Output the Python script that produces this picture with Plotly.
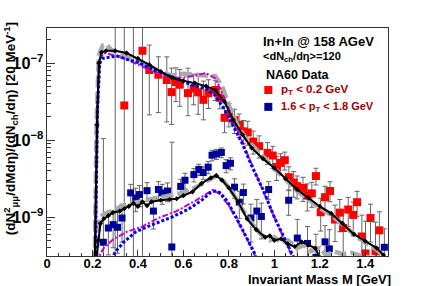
import numpy as np
import plotly.graph_objects as go

# ---------------- NA60 data, pT < 0.2 GeV (red) ----------------
red_mass = [0.300, 0.340, 0.380, 0.420, 0.450, 0.490, 0.527, 0.548, 0.567, 0.584,
            0.620, 0.645, 0.665, 0.688, 0.710, 0.740, 0.760, 0.781, 0.800, 0.825,
            0.845, 0.865, 0.883, 0.907, 0.933, 0.970, 0.993, 1.010, 1.027, 1.046,
            1.064, 1.085, 1.100, 1.126, 1.145, 1.165, 1.183, 1.204, 1.223, 1.245,
            1.267, 1.288, 1.303, 1.325, 1.347, 1.364, 1.385, 1.401, 1.423, 1.445, 1.462]
red_log10 = [-9.80, -7.55, -9.80, -6.84, -7.09, -7.15, -7.22, -7.377, -7.247, -7.28,
             -7.39, -7.33, -7.38, -7.477, -7.39, -7.35, -7.45, -7.71, -7.66, -7.74,
             -7.80, -7.886, -7.90, -8.018, -8.078, -8.165, -8.20, -8.347, -8.295, -8.26,
             -8.48, -8.55, -8.597, -8.62, -8.72, -8.69, -8.466, -8.935, -8.74, -8.66,
             -9.03, -8.94, -9.14, -8.90, -8.97, -8.805, -9.25, -9.47, -9.01, -9.44, -9.17]
red_err_up = [5e-7, 5e-7, 5e-7, 5e-7, 9e-8, 5e-8, 6e-8, 4.4e-8, 3e-8, 3e-8,
              4.5e-8, 2.5e-8, 3e-8, 2.5e-8, 2e-8, 1.5e-8, 1.2e-8, 8e-9, 8e-9, 7e-9,
              6e-9, 5e-9, 5e-9, 3.5e-9, 3e-9, 2.5e-9, 2e-9, 1.6e-9, 1.6e-9, 1.5e-9,
              1.2e-9, 1.1e-9, 9e-10, 9e-10, 8e-10, 8e-10, 9e-10, 6e-10, 7e-10, 7e-10,
              5e-10, 5.5e-10, 5e-10, 5.5e-10, 5e-10, 6e-10, 5e-10, 5.5e-10, 5e-10, 5e-10, 5e-10]
red_err_dn = [5e-7, 5e-7, 5e-7, 5e-7, 6e-8, 4.8e-8, 4.3e-8, 2.6e-8, 2.5e-8, 2.5e-8,
              2e-8, 1.8e-8, 2e-8, 1.5e-8, 1.5e-8, 1.2e-8, 1e-8, 7e-9, 7e-9, 6e-9,
              5e-9, 4e-9, 4e-9, 3e-9, 2.5e-9, 2e-9, 2e-9, 1.5e-9, 1.5e-9, 1.4e-9,
              1.1e-9, 1e-9, 8e-10, 8e-10, 7e-10, 7e-10, 8e-10, 5e-10, 6e-10, 6e-10,
              4.5e-10, 5e-10, 4.5e-10, 5e-10, 5e-10, 5.5e-10, 5e-10, 5.5e-10, 5e-10, 5e-10, 5e-10]

# ---------------- NA60 data, 1.6 < pT < 1.8 GeV (blue) ----------------
blue_mass = [0.248, 0.270, 0.291, 0.310, 0.330, 0.368, 0.390, 0.407, 0.440, 0.468,
             0.490, 0.507, 0.530, 0.549, 0.588, 0.607, 0.646, 0.668, 0.687, 0.709,
             0.726, 0.745, 0.767, 0.788, 0.807, 0.825, 0.846, 0.864, 0.897, 0.923,
             0.943, 0.975, 1.063, 1.101, 1.146, 1.183, 1.223, 1.242, 1.484]
blue_log10 = [-9.325, -9.14, -9.096, -9.13, -9.01, -8.684, -8.75, -8.706, -8.655, -8.92,
              -8.64, -8.684, -8.66, -9.386, -8.60, -8.52, -8.447, -8.38, -8.42, -8.35,
              -8.195, -8.18, -8.16, -8.33, -8.30, -8.61, -8.805, -8.68, -9.01, -8.92,
              -8.99, -8.64, -8.78, -9.27, -9.34, -9.52, -9.32, -9.41, -9.39]
blue_err = [1e-8, 4e-10, 4e-10, 4e-10, 5e-10, 6e-10, 6e-10, 6e-10, 6e-10, 5e-10,
            6e-10, 6e-10, 6e-10, 9e-9, 6e-10, 7e-10, 7e-10, 7e-10, 7e-10, 8e-10,
            1e-9, 1e-9, 1e-9, 9e-10, 9e-10, 7e-10, 6e-10, 6e-10, 5e-10, 5e-10,
            5e-10, 6e-10, 6e-10, 4e-10, 3e-10, 3e-10, 3e-10, 3e-10, 3e-10]

# ---------------- model curves, low pT (upper set) ----------------
hi_black_mass = [0.210, 0.220, 0.228, 0.240, 0.260, 0.300, 0.350, 0.400, 0.450, 0.500,
                 0.550, 0.600, 0.650, 0.700, 0.740, 0.780, 0.820, 0.860, 0.900, 0.950,
                 1.000, 1.050, 1.100, 1.150, 1.200, 1.250, 1.300, 1.350, 1.400, 1.450, 1.480]
hi_black_log10 = [-9.6, -7.8, -7.0, -6.86, -6.84, -6.84, -6.87, -6.94, -7.02, -7.11,
                  -7.19, -7.23, -7.26, -7.30, -7.35, -7.50, -7.74, -7.93, -8.10, -8.24,
                  -8.36, -8.50, -8.64, -8.75, -8.86, -8.95, -9.08, -9.22, -9.31, -9.40, -9.49]

hi_grey_mass = [0.210, 0.218, 0.228, 0.245, 0.262, 0.280, 0.300, 0.350, 0.400, 0.450,
                0.500, 0.550, 0.600, 0.650, 0.700, 0.740, 0.770, 0.800, 0.840, 0.880,
                0.920, 0.960, 1.000, 1.050, 1.100, 1.150, 1.200, 1.250, 1.300, 1.350,
                1.400, 1.450, 1.480]
hi_grey_log10 = [-9.6, -7.8, -6.9, -6.77, -6.76, -6.82, -6.86, -6.92, -6.98, -7.05,
                 -7.12, -7.16, -7.14, -7.15, -7.17, -7.17, -7.30, -7.55, -7.82, -8.0,
                 -8.12, -8.25, -8.37, -8.51, -8.66, -8.77, -8.88, -8.97, -9.10, -9.22,
                 -9.33, -9.42, -9.50]

hi_blue_mass = [0.212, 0.222, 0.232, 0.245, 0.280, 0.310, 0.350, 0.400, 0.450, 0.500,
                0.550, 0.600, 0.650, 0.700, 0.740, 0.780, 0.820, 0.860, 0.900, 0.950,
                1.000, 1.050, 1.090]
hi_blue_log10 = [-9.6, -7.6, -7.0, -6.94, -6.92, -6.91, -6.95, -6.99, -7.06, -7.12,
                 -7.18, -7.24, -7.30, -7.33, -7.42, -7.60, -7.82, -8.05, -8.33, -8.64,
                 -9.0, -9.32, -9.55]

hi_mag_mass = [0.212, 0.222, 0.232, 0.250, 0.270, 0.300, 0.350, 0.400, 0.450, 0.500,
               0.550, 0.600, 0.650, 0.700, 0.740, 0.780, 0.820, 0.860, 0.900, 0.950,
               1.000, 1.050, 1.090]
hi_mag_log10 = [-9.6, -7.5, -6.95, -6.87, -6.88, -6.91, -6.95, -7.02, -7.09, -7.15,
                -7.19, -7.19, -7.16, -7.13, -7.20, -7.45, -7.75, -8.03, -8.32, -8.66,
                -9.0, -9.33, -9.58]

# ---------------- model curves, high pT (lower set) ----------------
lo_black_mass = [0.215, 0.225, 0.235, 0.250, 0.270, 0.290, 0.320, 0.340, 0.360, 0.380,
                 0.400, 0.420, 0.440, 0.460, 0.500, 0.540, 0.570, 0.600, 0.640, 0.680,
                 0.720, 0.745, 0.770, 0.800, 0.840, 0.880, 0.920, 0.960, 0.980, 1.000,
                 1.030, 1.060, 1.090, 1.120, 1.150, 1.180, 1.200]
lo_black_log10 = [-9.6, -9.3, -9.08, -9.02, -8.98, -8.94, -8.92, -8.89, -8.86, -8.82,
                  -8.86, -8.80, -8.85, -8.80, -8.78, -8.77, -8.76, -8.72, -8.67, -8.56,
                  -8.49, -8.46, -8.52, -8.62, -8.80, -9.02, -9.16, -9.26, -9.24, -9.30,
                  -9.28, -9.35, -9.38, -9.32, -9.36, -9.40, -9.52]

lo_grey_mass = [0.215, 0.224, 0.232, 0.250, 0.280, 0.320, 0.360, 0.400, 0.440, 0.480,
                0.520, 0.560, 0.600, 0.650, 0.700, 0.745, 0.780, 0.820, 0.860, 0.900,
                0.940, 0.980, 1.000, 1.030, 1.060, 1.100, 1.130, 1.160, 1.200, 1.230,
                1.260, 1.300, 1.340, 1.380, 1.420]
lo_grey_log10 = [-9.6, -9.2, -9.0, -8.96, -8.92, -8.87, -8.83, -8.80, -8.78, -8.75,
                 -8.73, -8.71, -8.68, -8.62, -8.53, -8.46, -8.54, -8.70, -8.90, -9.08,
                 -9.22, -9.30, -9.26, -9.33, -9.30, -9.40, -9.36, -9.44, -9.40, -9.50,
                 -9.44, -9.48, -9.46, -9.50, -9.52]

lo_blue_mass = [0.285, 0.300, 0.335, 0.390, 0.460, 0.540, 0.620, 0.680, 0.720, 0.740,
                0.760, 0.790, 0.830, 0.870, 0.910, 0.925]
lo_blue_log10 = [-9.55, -9.45, -9.33, -9.19, -9.10, -9.01, -8.90, -8.78, -8.68, -8.66,
                 -8.68, -8.78, -8.99, -9.21, -9.45, -9.55]

lo_mag_mass = [0.222, 0.235, 0.250, 0.290, 0.350, 0.420, 0.490, 0.570, 0.650, 0.700,
               0.730, 0.760, 0.800, 0.840, 0.880, 0.920]
lo_mag_log10 = [-9.6, -9.47, -9.40, -9.29, -9.19, -9.12, -9.01, -8.92, -8.79, -8.70,
                -8.645, -8.70, -8.85, -9.06, -9.28, -9.53]

# legend texts
title_lines = ["In+In @ 158 AGeV", "&lt;dN<sub>ch</sub>/dη&gt;=120", "NA60 Data"]
legend_labels = ["p<sub>T</sub> &lt; 0.2 GeV", "1.6 &lt; p<sub>T</sub> &lt; 1.8 GeV"]

# ---------------------------------------------------------------------------
FONT = "Liberation Sans"
RED = "#ff0000"
NAVY = "#000099"
TXTRED = "#a00000"


def lin(v):
    return np.power(10.0, np.array(v))


fig = go.Figure()

# data points (drawn first, curves on top)
fig.add_trace(go.Scatter(
    x=red_mass, y=lin(red_log10), mode="markers",
    marker=dict(symbol="square", size=8, color=RED),
    error_y=dict(type="data", symmetric=False, array=red_err_up, arrayminus=red_err_dn,
                 color="#666666", thickness=1, width=2.5),
    showlegend=False))
fig.add_trace(go.Scatter(
    x=blue_mass, y=lin(blue_log10), mode="markers",
    marker=dict(symbol="square", size=7, color=NAVY),
    error_y=dict(type="data", array=blue_err, color="#666666", thickness=1, width=2.5),
    showlegend=False))

curve_sets = [
    (hi_grey_mass, hi_grey_log10, lo_grey_mass, lo_grey_log10,
     dict(color="#aaaaaa", width=4.5, dash="12px,4px"), "lines", None),
    (hi_mag_mass, hi_mag_log10, lo_mag_mass, lo_mag_log10,
     dict(color="#cc00cc", width=2, dash="6px,2px,2px,2px"), "lines", None),
    (hi_blue_mass, hi_blue_log10, lo_blue_mass, lo_blue_log10,
     dict(color="#0000ff", width=3, dash="3px,2px"), "lines", None),
    (hi_black_mass, hi_black_log10, lo_black_mass, lo_black_log10,
     dict(color="#000000", width=2), "lines+markers",
     dict(symbol="diamond", size=4, color="#000000")),
]
for hm, hl, lm, ll, line, mode, mk in curve_sets:
    for mm, lv in ((hm, hl), (lm, ll)):
        kw = dict(x=mm, y=lin(lv), mode=mode, line=line, showlegend=False)
        if mk is not None:
            kw["marker"] = mk
        fig.add_trace(go.Scatter(**kw))

# legend markers on an overlay paper-like axis
fig.add_trace(go.Scatter(x=[0.649], y=[0.728], mode="markers", xaxis="x2", yaxis="y2",
                         marker=dict(symbol="square", size=8, color=RED),
                         showlegend=False, cliponaxis=False))
fig.add_trace(go.Scatter(x=[0.649], y=[0.654], mode="markers", xaxis="x2", yaxis="y2",
                         marker=dict(symbol="square", size=8, color=NAVY),
                         showlegend=False, cliponaxis=False))

ann = []
ann.append(dict(text="<b>" + title_lines[0] + "</b>", x=0.629, y=0.942,
                font=dict(family=FONT, size=13, color="black")))
ann.append(dict(text="<b>" + title_lines[1] + "</b>", x=0.629, y=0.872,
                font=dict(family=FONT, size=11, color="black")))
ann.append(dict(text="<b>" + title_lines[2] + "</b>", x=0.635, y=0.794,
                font=dict(family=FONT, size=12.5, color="black")))
ann.append(dict(text="<b>" + legend_labels[0] + "</b>", x=0.681, y=0.728,
                font=dict(family=FONT, size=11.5, color=TXTRED)))
ann.append(dict(text="<b>" + legend_labels[1] + "</b>", x=0.681, y=0.654,
                font=dict(family=FONT, size=11, color=TXTRED)))
for a in ann:
    a.update(xref="paper", yref="paper", xanchor="left", yanchor="middle", showarrow=False)

# axis titles
ann.append(dict(text="<b>Invariant Mass M [GeV]</b>", xref="paper", yref="paper",
                x=1.015, y=-0.104, xanchor="right", yanchor="middle", showarrow=False,
                font=dict(family=FONT, size=13, color="black")))
ann.append(dict(text="<b>(dN<sup>2</sup><sub>μμ</sub>/dMdη)/(dN<sub>ch</sub>/dη) [20 MeV<sup>-1</sup>]</b>",
                xref="paper", yref="paper", x=-0.106, y=0.56, xanchor="center",
                yanchor="middle", textangle=-90, showarrow=False,
                font=dict(family=FONT, size=13.5, color="black")))

fig.update_layout(
    width=432, height=286,
    margin=dict(l=43, r=44, t=28, b=30),
    paper_bgcolor="white", plot_bgcolor="white",
    font=dict(family=FONT, color="black"),
    annotations=ann,
    xaxis=dict(range=[0, 1.5], showgrid=False, zeroline=False,
               showline=True, linecolor="#333333", linewidth=1, mirror=True,
               ticks="inside", ticklen=6, tickcolor="#333333",
               tick0=0, dtick=0.2, tickformat="~g", ticklabelstandoff=-5,
               tickfont=dict(family=FONT, size=13, weight="bold"),
               minor=dict(ticks="inside", ticklen=3, dtick=0.05, tickcolor="#333333",
                          showgrid=False)),
    yaxis=dict(type="log", range=[-9.503, -6.545], showgrid=False, zeroline=False,
               showline=True, linecolor="#333333", linewidth=1, mirror=True,
               ticks="inside", ticklen=8, tickcolor="#333333",
               dtick=1, exponentformat="power",
               tickfont=dict(family=FONT, size=13, weight="bold"),
               minor=dict(ticks="inside", ticklen=4, dtick="D1", tickcolor="#333333",
                          showgrid=False)),
    xaxis2=dict(overlaying="x", range=[0, 1], visible=False),
    yaxis2=dict(overlaying="y", range=[0, 1], visible=False),
)

fig.write_html("out.html", config={"displayModeBar": False},
               post_script="document.body.style.margin='0px';document.body.style.overflow='hidden';")
